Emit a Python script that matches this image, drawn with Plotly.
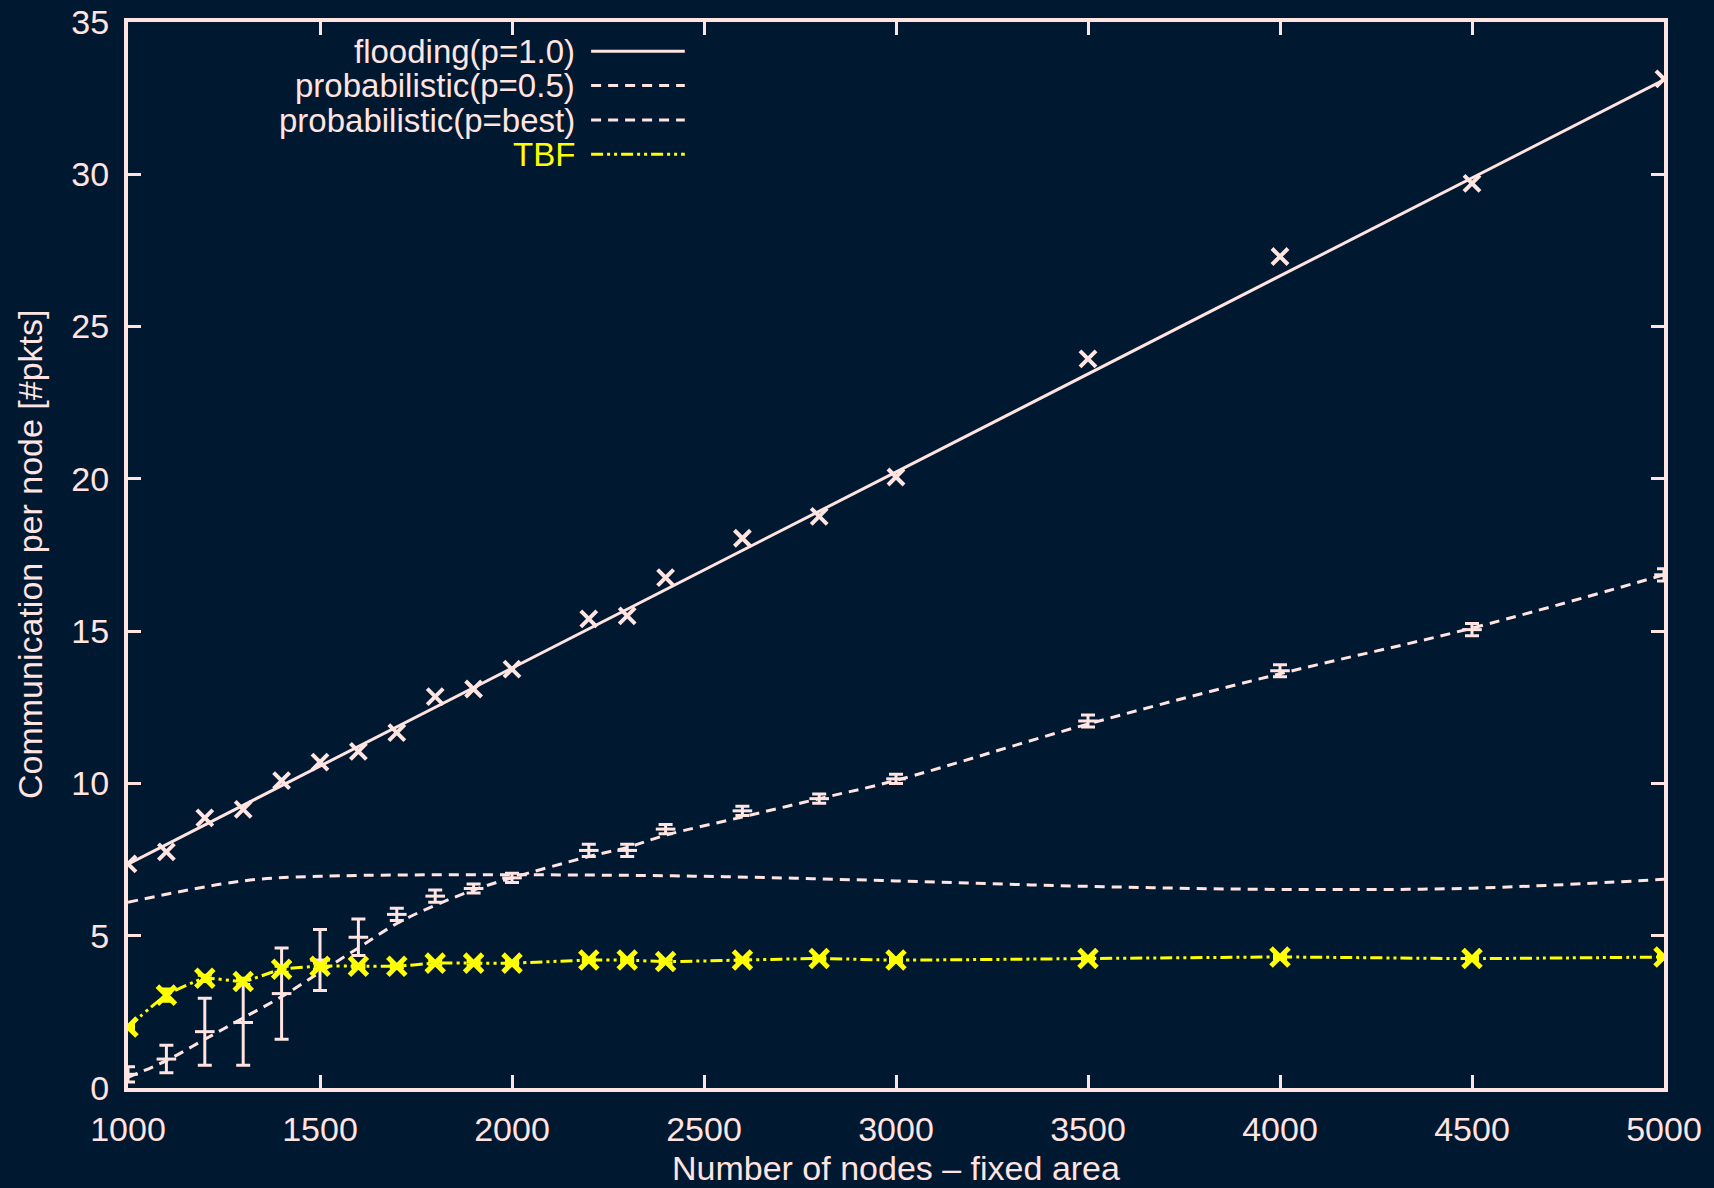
import plotly.graph_objects as go

# ---------------- data ----------------
nodes = [1000, 1100, 1200, 1300, 1400, 1500, 1600, 1700, 1800, 1900, 2000,
         2200, 2300, 2400, 2600, 2800, 3000, 3500, 4000, 4500, 5000]

flooding = [7.36, 7.75, 8.87, 9.15, 10.09, 10.70, 11.05, 11.67, 12.85, 13.10, 13.75,
            15.40, 15.50, 16.76, 18.05, 18.77, 20.06, 23.94, 27.30, 29.70, 33.13]
flooding_fit_x = [1000, 5000]
flooding_fit_y = [7.35, 33.10]

prob05 = [0.45, 0.95, 1.85, 2.15, 3.10, 4.20, 4.95, 5.70, 6.30, 6.55, 6.90,
          7.80, 7.80, 8.50, 9.10, 9.50, 10.15, 12.05, 13.70, 15.05, 16.85]
prob05_err = [0.25, 0.45, 1.10, 1.40, 1.50, 1.00, 0.60, 0.20, 0.20, 0.15, 0.15,
              0.20, 0.20, 0.15, 0.15, 0.15, 0.15, 0.20, 0.20, 0.20, 0.20]
prob05_line = [0.35, 0.90, 1.60, 2.30, 3.00, 3.80, 4.60, 5.40, 6.00, 6.50, 6.90,
               7.60, 7.90, 8.30, 8.90, 9.50, 10.10, 11.95, 13.60, 15.10, 16.85]

best_x = [1000, 1300, 1500, 2000, 2500, 3000, 3500, 4000, 4500, 5000]
best_y = [6.10, 6.80, 6.95, 7.00, 6.95, 6.80, 6.62, 6.52, 6.56, 6.85]

tbf = [2.00, 3.05, 3.60, 3.50, 3.90, 4.00, 4.00, 4.00, 4.10, 4.10, 4.10,
       4.20, 4.20, 4.15, 4.20, 4.25, 4.20, 4.25, 4.30, 4.25, 4.30]
tbf_err = [0.05, 0.20, 0.10, 0.10, 0.10, 0.10, 0.05, 0.05, 0.05, 0.05, 0.05,
           0.05, 0.05, 0.05, 0.05, 0.05, 0.05, 0.05, 0.05, 0.05, 0.05]

x_ticks = [1000, 1500, 2000, 2500, 3000, 3500, 4000, 4500, 5000]
y_ticks = [0, 5, 10, 15, 20, 25, 30, 35]

legend_labels = ["flooding(p=1.0)", "probabilistic(p=0.5)", "probabilistic(p=best)", "TBF"]

# ---------------- style ----------------
BG = "#001830"
PINK = "#FFE4E1"
YEL = "#FFFF00"
FONT = "Liberation Sans, Arial, sans-serif"
FS = 34
LFS = 33
DASH = "10px,7px"
TBFDASH = "12px,4px,3px,4px,3px,4px"

fig = go.Figure()

# flooding fit line + markers
fig.add_trace(go.Scatter(x=flooding_fit_x, y=flooding_fit_y, mode="lines",
                         line=dict(color=PINK, width=3), showlegend=False))
fig.add_trace(go.Scatter(x=nodes, y=flooding, mode="markers",
                         marker=dict(symbol="x-thin-open", size=16, color=PINK,
                                     line=dict(color=PINK, width=4)),
                         showlegend=False))

# probabilistic p=0.5
fig.add_trace(go.Scatter(x=nodes, y=prob05_line, mode="lines", line_shape="spline",
                         line=dict(color=PINK, width=3, dash=DASH, smoothing=1.0),
                         showlegend=False))
fig.add_trace(go.Scatter(x=nodes, y=prob05, mode="markers",
                         marker=dict(symbol="line-ew-open", size=14, color=PINK,
                                     line=dict(color=PINK, width=3)),
                         error_y=dict(type="data", array=prob05_err, color=PINK,
                                      thickness=3, width=7),
                         showlegend=False))

# probabilistic p=best
fig.add_trace(go.Scatter(x=best_x, y=best_y, mode="lines", line_shape="spline",
                         line=dict(color=PINK, width=3, dash=DASH),
                         showlegend=False))

# TBF
fig.add_trace(go.Scatter(x=nodes, y=tbf, mode="lines+markers", line_shape="spline",
                         line=dict(color=YEL, width=3, dash=TBFDASH, smoothing=0.5),
                         marker=dict(symbol="x-thin-open", size=18, color=YEL,
                                     line=dict(color=YEL, width=5)),
                         error_y=dict(type="data", array=tbf_err, color=YEL,
                                      thickness=3, width=7),
                         showlegend=False))

# ---------------- custom gnuplot-style legend ----------------
leg_rows = [0.9725, 0.9405, 0.908, 0.876]
leg_styles = [(PINK, "solid", PINK), (PINK, DASH, PINK), (PINK, DASH, PINK), (YEL, TBFDASH, YEL)]
for lab, yy, (lc, dash, tc) in zip(legend_labels, leg_rows, leg_styles):
    fig.add_annotation(x=0.2925, y=yy, xref="paper", yref="paper", text=lab,
                       showarrow=False, xanchor="right", yanchor="middle",
                       font=dict(family=FONT, size=LFS, color=tc))
    fig.add_shape(type="line", xref="paper", yref="paper", x0=0.3015, x1=0.3625,
                  y0=yy, y1=yy, line=dict(color=lc, width=3, dash=dash))

# axis titles
fig.add_annotation(x=-0.0638, y=0.5, xref="paper", yref="paper",
                   text="Communication per node [#pkts]", textangle=-90,
                   showarrow=False, xanchor="center", yanchor="middle",
                   font=dict(family=FONT, size=FS, color=PINK))
fig.add_annotation(x=0.5, y=-0.0755, xref="paper", yref="paper",
                   text="Number of nodes \u2013 fixed area",
                   showarrow=False, xanchor="center", yanchor="middle",
                   font=dict(family=FONT, size=FS, color=PINK))

axis_common = dict(showgrid=False, zeroline=False, showline=True, linecolor=PINK,
                   linewidth=4, ticks="inside", ticklen=13, tickwidth=3,
                   tickcolor=PINK, mirror="ticks",
                   tickfont=dict(family=FONT, size=FS, color=PINK))

fig.update_xaxes(range=[1000, 5000], tickvals=x_ticks,
                 ticktext=[str(v) for v in x_ticks], ticklabelstandoff=8, **axis_common)
fig.update_yaxes(range=[0, 35], tickvals=y_ticks,
                 ticktext=[str(v) for v in y_ticks], ticklabelstandoff=8, **axis_common)

fig.update_layout(width=1714, height=1188, paper_bgcolor=BG, plot_bgcolor=BG,
                  margin=dict(l=128, r=50, t=22, b=100, autoexpand=False),
                  showlegend=False)

fig.write_html("out.html", config={"displayModeBar": False},
               post_script="document.body.style.margin='0';"
                           "document.body.style.background='" + BG + "';")
